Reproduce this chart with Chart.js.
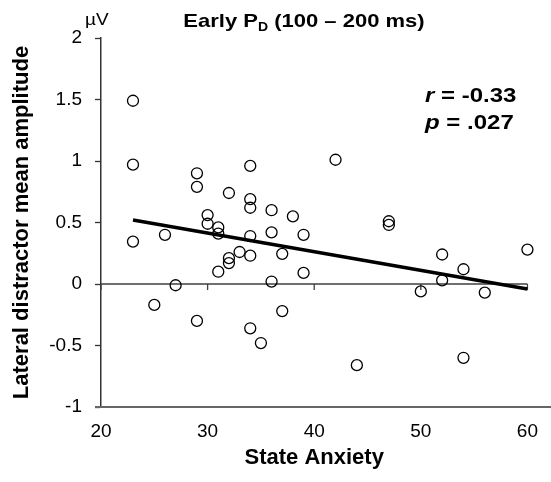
<!DOCTYPE html>
<html>
<head>
<meta charset="utf-8">
<script src="https://cdn.jsdelivr.net/npm/chart.js@4"></script>
<style>
  html, body { margin: 0; padding: 0; background: #fff; }
  canvas { display: block; }
</style>
</head>
<body>
<canvas id="pdChart" width="551" height="482"></canvas>
<script>
// State anxiety scores and early PD mean amplitudes (µV)
const anxiety = [
  23, 23, 23, 25, 26, 27, 29, 29, 29, 30, 30, 31, 31, 31, 32, 32, 32, 33,
  34, 34, 34, 34, 34, 34, 35, 36, 36, 36, 37, 37, 38, 39, 39, 42, 44, 47,
  47, 50, 52, 52, 54, 54, 56, 60,
];
const amplitude = [
  1.49, 0.97, 0.345, -0.17, 0.4, -0.01, 0.9, 0.79, -0.3, 0.56, 0.49, 0.46,
  0.41, 0.1, 0.74, 0.21, 0.17, 0.26, 0.96, 0.69, 0.62, 0.39, 0.23, -0.36,
  -0.48, 0.6, 0.42, 0.02, 0.245, -0.22, 0.55, 0.4, 0.09, 1.01, -0.66, 0.51,
  0.48, -0.06, 0.24, 0.03, 0.12, -0.6, -0.07, 0.28,
];

// regression line end points
const fitX = [23, 60];
const fitY = [0.52, -0.04];

const xTicks = [20, 30, 40, 50, 60];
const yTicks = [-1, -0.5, 0, 0.5, 1, 1.5, 2];

const FONT = "'Liberation Sans', Arial, sans-serif";
const SQUASH = 0.87;

// draw a row of text pieces, squashed a little vertically like the source figure
function drawParts(ctx, parts, x, baseline, align) {
  ctx.save();
  ctx.textBaseline = "alphabetic";
  ctx.textAlign = "left";
  let total = 0;
  parts.forEach((p) => {
    ctx.font = p.font;
    p.w = ctx.measureText(p.text).width;
    total += p.w;
  });
  let cx = align === "center" ? x - total / 2 : x;
  ctx.translate(0, baseline);
  ctx.scale(1, SQUASH);
  parts.forEach((p) => {
    ctx.font = p.font;
    ctx.fillStyle = "#000";
    ctx.fillText(p.text, cx, p.dy || 0);
    cx += p.w;
  });
  ctx.restore();
}

const decorPlugin = {
  id: "decor",
  beforeDatasetsDraw(chart) {
    const { ctx, chartArea, scales } = chart;
    const y0 = scales.y.getPixelForValue(0);
    const yb = scales.y.getPixelForValue(scales.y.min);
    ctx.save();
    // zero line with its tick marks
    ctx.strokeStyle = "#404040";
    ctx.lineWidth = 1.3;
    ctx.beginPath();
    ctx.moveTo(chartArea.left, y0);
    ctx.lineTo(chartArea.right, y0);
    xTicks.forEach((v) => {
      const px = scales.x.getPixelForValue(v);
      ctx.moveTo(px, y0);
      ctx.lineTo(px, y0 + 6);
    });
    ctx.stroke();
    // bottom line
    ctx.strokeStyle = "#666";
    ctx.lineWidth = 2;
    ctx.beginPath();
    ctx.moveTo(chartArea.left - 6, yb);
    ctx.lineTo(chart.width, yb);
    ctx.stroke();
    ctx.restore();
  },
  afterDraw(chart) {
    const ctx = chart.ctx;
    const bold = (s) => "bold " + s + "px " + FONT;
    drawParts(ctx, [
      { text: "Early P", font: bold(22) },
      { text: "D", font: bold(14), dy: 5 },
      { text: " (100 \u2013 200 ms)", font: bold(22) },
    ], 304, 27, "center");
    drawParts(ctx, [{ text: "\u00b5V", font: "19px " + FONT }], 85, 25);
    drawParts(ctx, [
      { text: "r", font: "italic bold 24px " + FONT },
      { text: " = -0.33", font: bold(24) },
    ], 425, 102);
    drawParts(ctx, [
      { text: "p", font: "italic bold 24px " + FONT },
      { text: " = .027", font: bold(24) },
    ], 425, 129);
  },
};

const ctx = document.getElementById("pdChart").getContext("2d");
new Chart(ctx, {
  type: "scatter",
  data: {
    datasets: [
      {
        type: "line",
        data: fitX.map((x, i) => ({ x: x, y: fitY[i] })),
        borderColor: "#000",
        borderWidth: 3.5,
        pointRadius: 0,
        fill: false,
        order: 0,
        clip: false,
      },
      {
        data: anxiety.map((x, i) => ({ x: x, y: amplitude[i] })),
        pointStyle: "circle",
        pointRadius: 5.5,
        pointBorderWidth: 1.3,
        borderColor: "#000",
        backgroundColor: "rgba(0,0,0,0)",
        order: 1,
        clip: false,
      },
    ],
  },
  options: {
    responsive: false,
    animation: false,
    events: [],
    layout: { padding: { top: 38, right: 17, left: 0, bottom: 0 } },
    plugins: {
      legend: { display: false },
      tooltip: { enabled: false },
    },
    scales: {
      x: {
        type: "linear",
        min: 20,
        max: 60,
        afterBuildTicks: (s) => { s.ticks = xTicks.map((v) => ({ value: v })); },
        afterFit: (s) => { s.height = 75; },
        grid: { display: false, drawTicks: false },
        border: { display: false },
        ticks: {
          padding: 13,
          color: "#000",
          font: { family: FONT, size: 19 },
          maxRotation: 0,
        },
        title: {
          display: true,
          text: "State Anxiety",
          color: "#000",
          font: { family: FONT, size: 22, weight: "bold" },
          padding: { top: 0, bottom: 11 },
        },
      },
      y: {
        type: "linear",
        min: -1,
        max: 2,
        afterBuildTicks: (s) => { s.ticks = yTicks.map((v) => ({ value: v })); },
        afterFit: (s) => { s.width = 101; },
        grid: {
          drawOnChartArea: false,
          drawTicks: true,
          tickLength: 6,
          tickColor: "#333",
          tickWidth: 1.3,
        },
        border: { display: true, color: "#333", width: 1.5 },
        ticks: {
          padding: 13,
          color: "#000",
          font: { family: FONT, size: 19 },
          callback: (v) => String(v),
        },
        title: {
          display: true,
          text: "Lateral distractor mean amplitude",
          color: "#000",
          font: { family: FONT, size: 22, weight: "bold" },
          padding: { top: 9, bottom: 0 },
        },
      },
    },
  },
  plugins: [decorPlugin],
});
</script>
</body>
</html>
